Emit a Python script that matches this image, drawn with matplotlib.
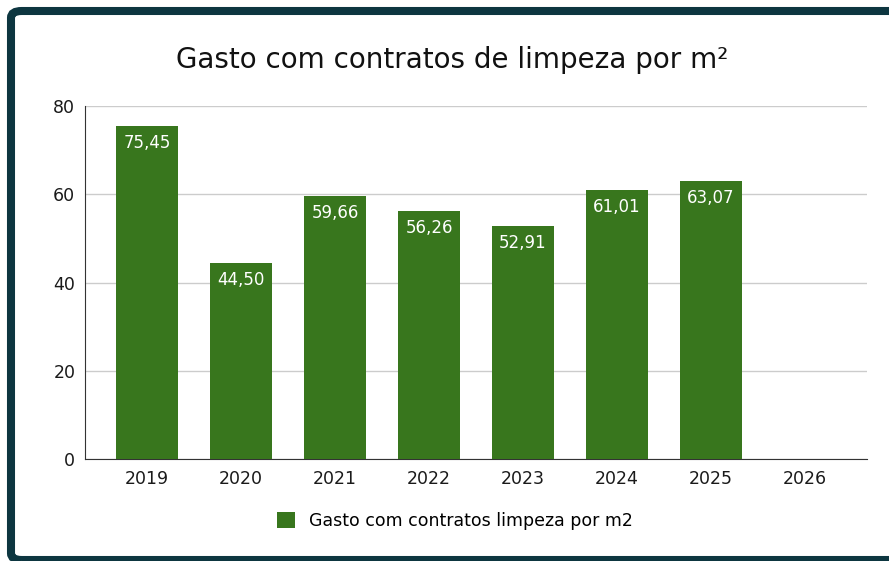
import matplotlib.pyplot as plt
import numpy as np
from matplotlib.patches import FancyBboxPatch

anos = ["2019", "2020", "2021", "2022", "2023", "2024", "2025", "2026"]
gasto = [75.45, 44.50, 59.66, 56.26, 52.91, 61.01, 63.07, np.nan]
yticks = [0, 20, 40, 60, 80]

W, H = 889, 561
fig = plt.figure(figsize=(W / 100, H / 100), dpi=100)
fig.patch.set_facecolor("white")

# dark frame around the chart (cut off on the right and bottom)
frame = FancyBboxPatch((11 / W, 1 / H), (910 - 11) / W, (550 - 1) / H,
                       boxstyle="round,pad=0,rounding_size=0.012",
                       transform=fig.transFigure, facecolor="none",
                       edgecolor="#0d3640", linewidth=5.8, zorder=10)
fig.patches.append(frame)

ax = fig.add_axes([85 / W, 1 - 459 / H, (867 - 85) / W, (459 - 106) / H])
ax.set_facecolor("none")

x = np.arange(len(anos))
green = "#38761d"
bars = ax.bar(x, gasto, width=0.66, color=green, zorder=3,
              label="Gasto com contratos limpeza por m2")

for xi, v in zip(x, gasto):
    if np.isnan(v):
        continue
    ax.annotate(f"{v:.2f}".replace(".", ","), (xi, v), xytext=(0, -17),
                textcoords="offset pixels", ha="center", va="center",
                color="white", fontsize=12, zorder=4)

ax.set_xlim(-0.66, len(anos) - 1 + 0.66)
ax.set_ylim(0, 80)
ax.set_xticks(x)
ax.set_xticklabels(anos)
ax.set_yticks(yticks)
ax.grid(axis="y", color="#cccccc", linewidth=1, zorder=0)
for s in ["top", "right"]:
    ax.spines[s].set_visible(False)
ax.spines["left"].set_color("#333333")
ax.spines["bottom"].set_color("#333333")
ax.tick_params(axis="both", length=0, labelsize=12.5, colors="#1a1a1a")
ax.tick_params(axis="x", pad=8)
ax.tick_params(axis="y", pad=7)

fig.text(452 / W, 1 - 60 / H, "Gasto com contratos de limpeza por m²",
         ha="center", va="center", fontsize=20, color="#111111")

fig.legend(loc="center", bbox_to_anchor=(455 / W, 1 - 521 / H), frameon=False,
           fontsize=12.5, handlelength=1.0, handleheight=1.0, handletextpad=0.8)

fig.savefig("out.png", dpi=100)
